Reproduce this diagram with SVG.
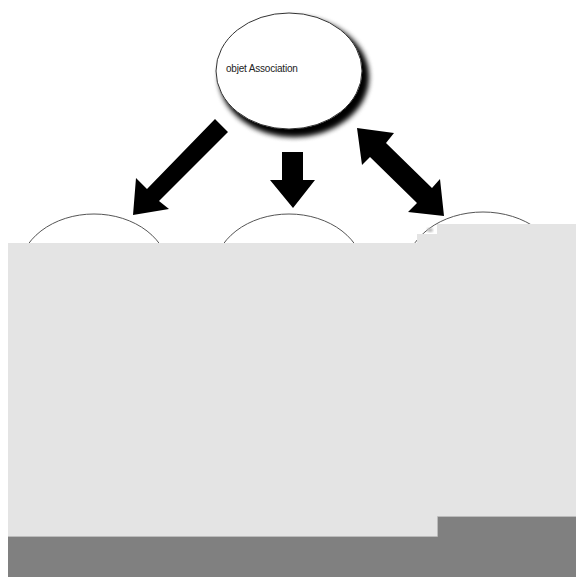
<svg xmlns="http://www.w3.org/2000/svg" width="576" height="577" viewBox="0 0 576 577">
<style>
.node{fill:#fff;stroke:#555;stroke-width:1}
.arrow{fill:#000}
.lbl{font-family:"Liberation Sans",Arial,sans-serif;font-size:10px;fill:#222;letter-spacing:-0.2px}
</style>
<defs>
<filter id="sh" x="-30%" y="-30%" width="160%" height="160%">
<feGaussianBlur in="SourceAlpha" stdDeviation="3"/>
<feOffset dx="5" dy="6" result="b"/>
<feMerge><feMergeNode in="b"/><feMergeNode in="b"/><feMergeNode in="SourceGraphic"/></feMerge>
</filter>
<filter id="bl"><feGaussianBlur stdDeviation="1"/></filter>
</defs>
<rect width="576" height="577" fill="#fff"/>
<g id="n-left"><ellipse class="node" cx="94" cy="272" rx="75" ry="58"/></g>
<g id="n-mid"><ellipse class="node" cx="289" cy="272" rx="75" ry="58"/></g>
<g id="n-right"><ellipse class="node" cx="483" cy="270" rx="77" ry="58"/></g>
<g id="n-top">
<ellipse cx="289" cy="71" rx="73" ry="58" fill="#fff" stroke="#333" stroke-width="1" filter="url(#sh)"/>
<text class="lbl" x="226" y="72">objet Association</text>
</g>
<g id="connectors">
<polygon class="arrow" points="215,119 228,132 159,201 169,209 133,215 136,178 147,189"/>
<polygon class="arrow" points="282,152 303,152 303,180 315,180 293,208 270,180 282,180"/>
<polygon class="arrow" points="357,128 394,133 386,143 432,188 440,179 444,216 408,212 417,203 370,157 362,165"/>
</g>
<rect x="8" y="243" width="568" height="294" fill="#e4e4e4"/>
<rect x="417" y="234" width="20" height="10" fill="#e4e4e4"/>
<rect x="437" y="224" width="139" height="20" fill="#e4e4e4"/>
<ellipse cx="430" cy="230" rx="3" ry="2" fill="#bbb" filter="url(#bl)"/>
<rect x="8" y="537" width="568" height="40" fill="#808080"/>
<rect x="437" y="517" width="139" height="20" fill="#808080"/>
<path d="M8,536.5 H437.5 V516.5 H576" fill="none" stroke="#bbb" stroke-width="1"/>
</svg>
